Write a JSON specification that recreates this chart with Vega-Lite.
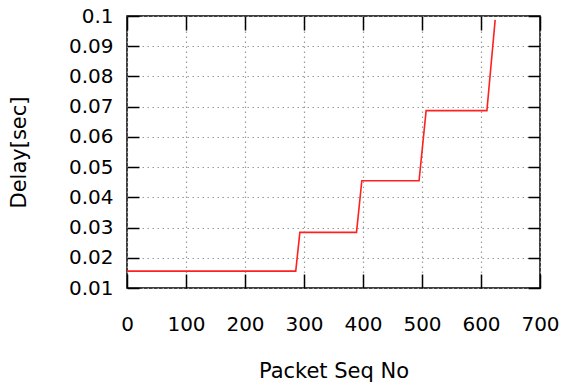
{
  "$schema": "https://vega.github.io/schema/vega-lite/v6.json",
  "width": 413,
  "height": 272,
  "autosize": {"type": "none"},
  "padding": {"left": 127, "top": 16, "right": 23, "bottom": 97},
  "background": "white",
  "config": {
    "view": {"stroke": "black", "strokeWidth": 1.5},
    "axis": {
      "labelFont": "DejaVu Sans",
      "labelFontSize": 20,
      "labelColor": "black",
      "titleFont": "DejaVu Sans",
      "titleFontSize": 21,
      "titleFontWeight": "normal",
      "titleColor": "black",
      "domain": false,
      "tickColor": "black",
      "tickWidth": 1.5,
      "gridColor": "#9a9a9a",
      "gridDash": [1.5, 3.5],
      "gridWidth": 1.2,
      "gridOpacity": 1
    }
  },
  "data": {
    "values": [
      {"seq": 0, "delay": 0.0156},
      {"seq": 286, "delay": 0.0156},
      {"seq": 293, "delay": 0.0284},
      {"seq": 389, "delay": 0.0284},
      {"seq": 398, "delay": 0.0455},
      {"seq": 495, "delay": 0.0455},
      {"seq": 507, "delay": 0.0687},
      {"seq": 610, "delay": 0.0687},
      {"seq": 624, "delay": 0.0987}
    ]
  },
  "layer": [
    {
      "mark": {"type": "line", "color": "#ff2020", "strokeWidth": 1.6, "clip": true},
      "encoding": {
        "x": {
          "field": "seq",
          "type": "quantitative",
          "scale": {"domain": [0, 700], "nice": false, "zero": false},
          "axis": {
            "orient": "bottom",
            "title": "Packet Seq No",
            "values": [0, 100, 200, 300, 400, 500, 600, 700],
            "grid": true,
            "tickSize": -14,
            "labelPadding": 56,
            "labelBaseline": "alphabetic",
            "labelFlush": false,
            "labelOverlap": false,
            "titleX": 206.5,
            "titleY": 89,
            "titleAlign": "center",
            "titleBaseline": "alphabetic"
          }
        },
        "y": {
          "field": "delay",
          "type": "quantitative",
          "scale": {"domain": [0.01, 0.1], "nice": false, "zero": false},
          "axis": {
            "orient": "left",
            "title": "Delay[sec]",
            "values": [0.01, 0.02, 0.03, 0.04, 0.05, 0.06, 0.07, 0.08, 0.09, 0.1],
            "format": "~g",
            "grid": true,
            "tickSize": -12,
            "labelPadding": 26,
            "labelFlush": false,
            "labelOverlap": false,
            "titleAngle": -90,
            "titleX": -108,
            "titleY": 136,
            "titleAlign": "center",
            "titleBaseline": "middle"
          }
        }
      }
    },
    {
      "mark": {"type": "line", "strokeOpacity": 0},
      "encoding": {
        "x": {
          "field": "seq",
          "type": "quantitative",
          "axis": {
            "orient": "top",
            "title": null,
            "values": [0, 100, 200, 300, 400, 500, 600, 700],
            "labels": false,
            "grid": false,
            "tickSize": -14
          }
        },
        "y": {
          "field": "delay",
          "type": "quantitative",
          "axis": {
            "orient": "right",
            "title": null,
            "values": [0.01, 0.02, 0.03, 0.04, 0.05, 0.06, 0.07, 0.08, 0.09, 0.1],
            "labels": false,
            "grid": false,
            "tickSize": -12
          }
        }
      }
    }
  ],
  "resolve": {"axis": {"x": "independent", "y": "independent"}}
}
